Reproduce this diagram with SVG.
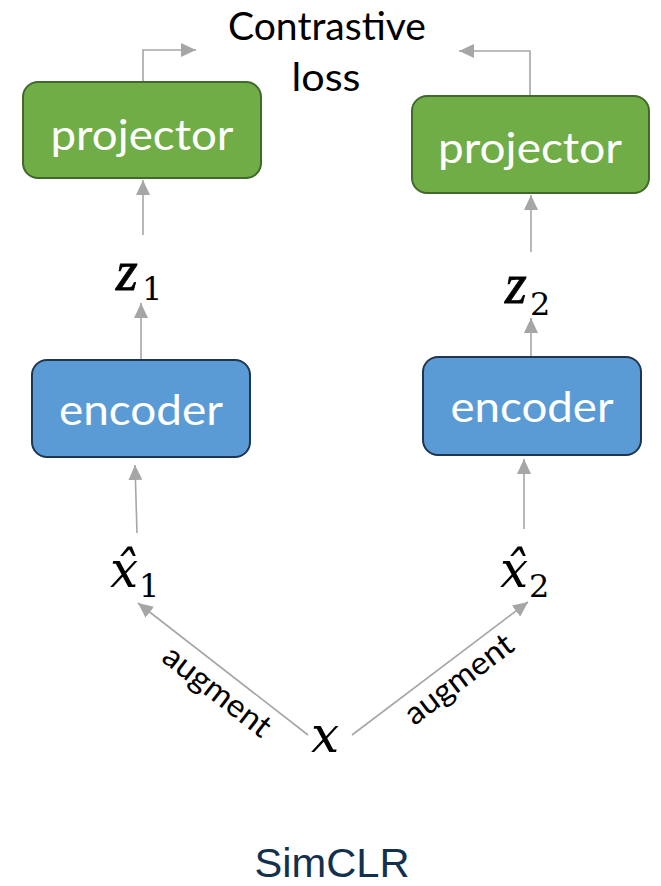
<svg xmlns="http://www.w3.org/2000/svg" width="661" height="886" viewBox="0 0 661 886">
  <defs>
    <style>
      .proj { fill: #70ad47; stroke: #41692c; stroke-width: 2; }
      .enc { fill: #5b9bd5; stroke: #1f3650; stroke-width: 2; }
      .lbl { font-family: "Lato", "Open Sans", "Liberation Sans", sans-serif; fill: #ffffff; text-anchor: middle; }
      .cap { font-family: "Lato", "Open Sans", "Liberation Sans", sans-serif; fill: #000000; }
      .mathz { font-family: "Liberation Serif", "DejaVu Serif", serif; font-style: italic; fill: #000000; stroke: #000000; stroke-width: 0.8; }
      .math { font-family: "DejaVu Serif", "Liberation Serif", serif; font-style: italic; fill: #000000; }
      .sub { font-family: "DejaVu Serif", "Liberation Serif", serif; fill: #000000; }
      .edge { fill: none; stroke: #a6a6a6; stroke-width: 1.6; marker-end: url(#head); }
      .title { font-family: "Liberation Sans", Arial, sans-serif; fill: #13304f; text-anchor: middle; }
    </style>
    <marker id="head" markerUnits="userSpaceOnUse" markerWidth="15" markerHeight="14" refX="15" refY="7" orient="auto">
      <path d="M0,0 L15,7 L0,14 z" fill="#a6a6a6"/>
    </marker>
  </defs>
  <rect width="661" height="886" fill="#ffffff"/>

  <!-- connectors -->
  <g id="connectors">
    <path class="edge" d="M143,82 V50 H196"/>
    <path class="edge" d="M530,96 V51 H459"/>
    <path class="edge" d="M143,235 V180"/>
    <path class="edge" d="M141,360 V303"/>
    <path class="edge" d="M137,533 L135,465"/>
    <path class="edge" d="M531,252 V195"/>
    <path class="edge" d="M531,357 V318"/>
    <path class="edge" d="M524,529 V459"/>
    <path class="edge" d="M308,735 L138,603"/>
    <path class="edge" d="M352,735 L528,602"/>
  </g>

  <!-- loss label -->
  <g id="contrastive-loss">
    <text class="cap" x="327" y="40" font-size="38" text-anchor="middle" textLength="198" lengthAdjust="spacingAndGlyphs">Contrastive</text>
    <text class="cap" x="326" y="91" font-size="38" text-anchor="middle" textLength="69" lengthAdjust="spacingAndGlyphs">loss</text>
  </g>

  <!-- projector heads -->
  <g id="projector-1">
    <rect class="proj" x="23" y="82" width="238" height="96" rx="15"/>
    <text class="lbl" x="142" y="150" font-size="42" textLength="183" lengthAdjust="spacingAndGlyphs">projector</text>
  </g>
  <g id="projector-2">
    <rect class="proj" x="412" y="96" width="237" height="97" rx="15"/>
    <text class="lbl" x="530" y="163" font-size="42" textLength="184" lengthAdjust="spacingAndGlyphs">projector</text>
  </g>

  <!-- representations -->
  <g id="z1">
    <text class="mathz" x="116" y="290" font-size="56">z</text>
    <text class="sub" x="142" y="300" font-size="32">1</text>
  </g>
  <g id="z2">
    <text class="mathz" x="505" y="303" font-size="56">z</text>
    <text class="sub" x="530" y="315" font-size="32">2</text>
  </g>

  <!-- encoders -->
  <g id="encoder-1">
    <rect class="enc" x="32" y="360" width="218" height="97" rx="15"/>
    <text class="lbl" x="141" y="425" font-size="42" textLength="164" lengthAdjust="spacingAndGlyphs">encoder</text>
  </g>
  <g id="encoder-2">
    <rect class="enc" x="423" y="357" width="218" height="98" rx="15"/>
    <text class="lbl" x="532" y="422" font-size="42" textLength="163" lengthAdjust="spacingAndGlyphs">encoder</text>
  </g>

  <!-- augmented views -->
  <g id="xhat1">
    <text class="math" x="110" y="587" font-size="50">x&#770;</text>
    <text class="sub" x="139" y="597" font-size="32">1</text>
  </g>
  <g id="xhat2">
    <text class="math" x="500" y="587" font-size="50">x&#770;</text>
    <text class="sub" x="529" y="597" font-size="32">2</text>
  </g>

  <!-- input -->
  <g id="x">
    <text class="math" x="311" y="752" font-size="50">x</text>
  </g>

  <!-- edge labels -->
  <g id="augment-labels">
    <text class="cap" transform="translate(215,694) rotate(37.8)" x="0" y="7" font-size="32" text-anchor="middle" textLength="128" lengthAdjust="spacingAndGlyphs">augment</text>
    <text class="cap" transform="translate(461,682) rotate(-37.1)" x="0" y="7" font-size="32" text-anchor="middle" textLength="128" lengthAdjust="spacingAndGlyphs">augment</text>
  </g>

  <!-- caption -->
  <text class="title" x="332" y="877" font-size="40" textLength="155" lengthAdjust="spacingAndGlyphs">SimCLR</text>
</svg>
